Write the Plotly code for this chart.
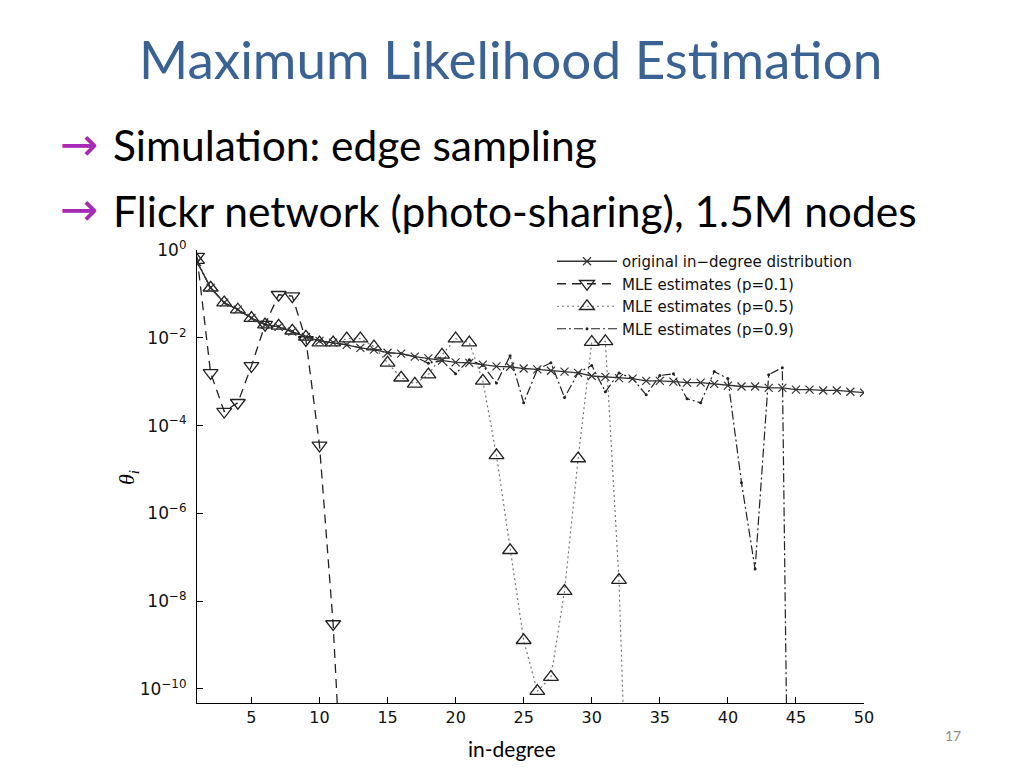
import plotly.graph_objects as go

# ---------------- data (log10 values) ----------------
in_degree = list(range(1, 51))

original_log = [-0.27, -0.86, -1.20, -1.36, -1.55, -1.70, -1.75, -1.86, -1.98, -2.07,
                -2.11, -2.16, -2.23, -2.27, -2.34, -2.36, -2.43, -2.47, -2.52, -2.56,
                -2.57, -2.61, -2.65, -2.66, -2.70, -2.72, -2.75, -2.77, -2.80, -2.87,
                -2.89, -2.92, -2.93, -2.98, -2.98, -3.00, -3.02, -3.02, -3.05, -3.09,
                -3.11, -3.11, -3.14, -3.14, -3.18, -3.18, -3.20, -3.20, -3.23, -3.25]

p01_log = [-0.15, -2.80, -3.68, -3.48, -2.64, -1.70, -1.02, -1.05, -2.05, -4.45,
           -8.52, -14.5] + [None] * 38

p05_log = [-0.23, -0.86, -1.20, -1.36, -1.55, -1.70, -1.73, -1.84, -1.98, -2.11,
           -2.11, -2.02, -2.02, -2.20, -2.57, -2.91, -3.05, -2.84, -2.39, -2.02,
           -2.11, -2.98, -4.68, -6.84, -8.89, -10.05, -9.73, -7.77, -4.75, -2.10,
           -2.08, -7.52, -17.0] + [None] * 17

p09_log = [-0.27, -0.86, -1.20, -1.36, -1.55, -1.70, -1.75, -1.86, -1.98, -2.07,
           -2.11, -2.16, -2.23, -2.27, -2.34, -2.36, -2.43, -2.58, -2.52, -2.82,
           -2.50, -2.63, -3.03, -2.41, -3.48, -2.72, -2.57, -3.36, -2.80, -2.63,
           -3.23, -2.80, -2.93, -3.30, -2.86, -2.82, -3.39, -3.48, -2.77, -2.93,
           -5.30, -7.27, -2.84, -2.68, -28.0] + [None] * 5

series_names = ["original in\u2212degree distribution", "MLE estimates (p=0.1)",
                "MLE estimates (p=0.5)", "MLE estimates (p=0.9)"]

x_ticks = [5, 10, 15, 20, 25, 30, 35, 40, 45, 50]
y_tick_exps = [0, -2, -4, -6, -8, -10]


def lin(vals):
    return [None if v is None else 10 ** v for v in vals]


fig = go.Figure()

fig.add_trace(go.Scatter(
    x=in_degree, y=lin(p01_log), name=series_names[1], mode="lines+markers",
    line=dict(color="#222", width=1.3, dash="9px,6px"),
    marker=dict(symbol="triangle-down-open", size=13, color="#222",
                line=dict(width=1.3, color="#222"))))

fig.add_trace(go.Scatter(
    x=in_degree, y=lin(p05_log), name=series_names[2], mode="lines+markers",
    line=dict(color="#777", width=1.2, dash="2px,3px"),
    marker=dict(symbol="triangle-up-open", size=13, color="#222",
                line=dict(width=1.3, color="#222"))))

fig.add_trace(go.Scatter(
    x=in_degree, y=lin(p09_log), name=series_names[3], mode="lines+markers",
    line=dict(color="#222", width=1.2, dash="9px,3px,2px,3px"),
    marker=dict(symbol="circle", size=3, color="#222")))

fig.add_trace(go.Scatter(
    x=in_degree, y=lin(original_log), name=series_names[0], mode="lines+markers",
    line=dict(color="#333", width=1.3),
    marker=dict(symbol="x-thin", size=8, color="#333",
                line=dict(width=1.2, color="#333")),
    legendrank=1))

OFF = 8  # page body margin
L, R, T, B = 197 - OFF, 864 - OFF, 250 - OFF, 703 - OFF
W, H = 1024, 768


def px(xp):
    return (xp - OFF - L) / (R - L)


def py(yp):
    return (B - (yp - OFF)) / (B - T)


fig.update_layout(
    width=W, height=H, autosize=False,
    margin=dict(l=L, r=W - R, t=T, b=H - B, pad=0),
    paper_bgcolor="white", plot_bgcolor="white",
    font=dict(family="DejaVu Sans", size=16, color="black"),
    showlegend=True,
    legend=dict(x=px(552), y=py(245), xanchor="left", yanchor="top",
                bgcolor="rgba(0,0,0,0)", borderwidth=0,
                font=dict(family="DejaVu Sans", size=15, color="#111"),
                itemwidth=60, tracegroupgap=0, traceorder="normal"),
    xaxis=dict(range=[1, 50], tickvals=x_ticks, ticks="inside", ticklen=6,
               tickcolor="black", showline=True, linecolor="black", linewidth=1.2,
               showgrid=False, zeroline=False, mirror=False,
               tickfont=dict(family="DejaVu Sans", size=16, color="#111")),
    yaxis=dict(type="log", range=[-10.32, 0.0],
               tickvals=[10 ** e for e in y_tick_exps],
               ticktext=["10<sup>%s</sup>" % (str(e).replace("-", "\u2212")) for e in y_tick_exps],
               ticks="inside", ticklen=6, tickcolor="black", showline=True,
               linecolor="black", linewidth=1.2, showgrid=False, zeroline=False,
               mirror=False, ticklabelstandoff=6,
               tickfont=dict(family="DejaVu Sans", size=17, color="#111")),
)

ann = []
# slide title
ann.append(dict(text="Maximum Likelihood Estimation", x=px(510), y=py(58),
                xref="paper", yref="paper", xanchor="center", yanchor="middle",
                showarrow=False,
                font=dict(family="Lato", size=53, color="#3A6394")))
# bullets
for yy, txt in [(145, "Simulation: edge sampling"),
                (210, "Flickr network (photo-sharing), 1.5M nodes")]:
    ann.append(dict(text="\u2192", x=px(58), y=py(yy - 1), xref="paper", yref="paper",
                    xanchor="left", yanchor="middle", showarrow=False,
                    font=dict(family="DejaVu Sans", size=46, color="#A62AB5")))
    ann.append(dict(text=txt, x=px(111), y=py(yy), xref="paper", yref="paper",
                    xanchor="left", yanchor="middle", showarrow=False,
                    font=dict(family="Lato", size=42.5, color="black")))
# y label
ann.append(dict(text="<i>\u03b8<sub>i</sub></i>", x=px(128), y=py(478),
                xref="paper", yref="paper", xanchor="center", yanchor="middle",
                showarrow=False, textangle=-90,
                font=dict(family="Liberation Serif", size=22, color="black")))
# x label
ann.append(dict(text="in-degree", x=px(512), y=py(748), xref="paper", yref="paper",
                xanchor="center", yanchor="middle", showarrow=False,
                font=dict(family="Lato", size=21, color="black")))
# page number
ann.append(dict(text="17", x=px(953), y=py(735), xref="paper", yref="paper",
                xanchor="center", yanchor="middle", showarrow=False,
                font=dict(family="Lato", size=14, color="#8C8C8C")))
fig.update_layout(annotations=ann)

fig.write_html("out.html")
